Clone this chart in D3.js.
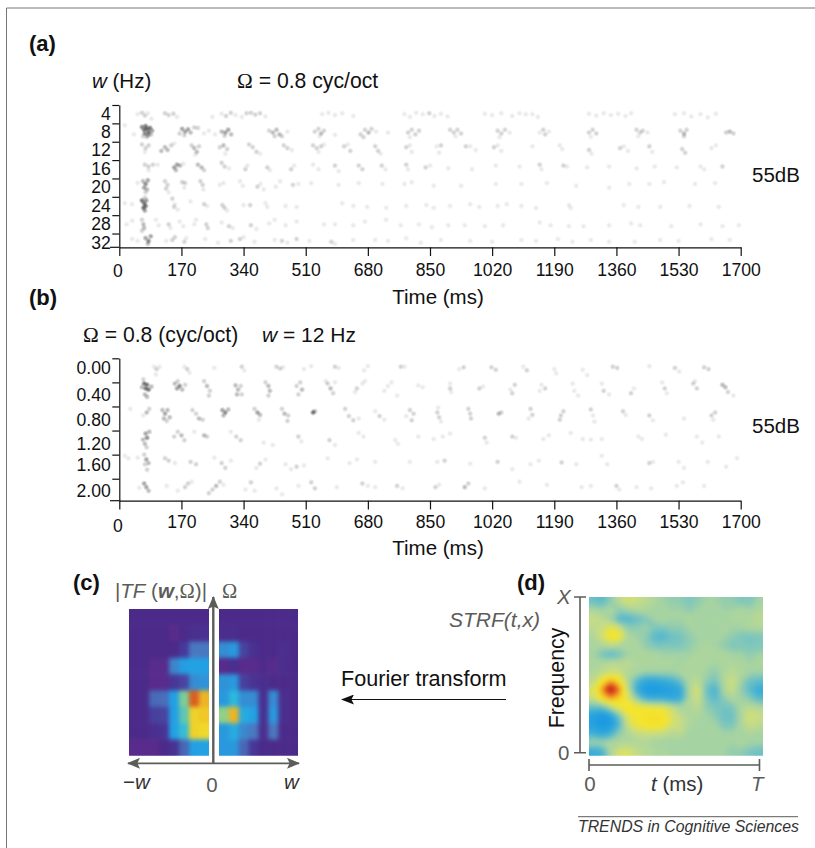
<!DOCTYPE html>
<html>
<head>
<meta charset="utf-8">
<script src="https://cdn.jsdelivr.net/npm/d3@7"></script>
<style>
html, body { margin: 0; padding: 0; background: #fff; }
text { font-family: "Liberation Sans", Arial, sans-serif; }
.tick text { font-size: 17.6px; fill: #111; }
</style>
</head>
<body>
<div id="chart"></div>
<script>
// Tick labels
const timeTicks = [0, 170, 340, 510, 680, 850, 1020, 1190, 1360, 1530, 1700];
const rateTicks = [4, 8, 12, 16, 20, 24, 28, 32];
const scaleTicks = [0, 0.4, 0.8, 1.2, 1.6, 2.0];

// Panel (a) spikes: [time ms, rate Hz, darkness]
const spikes4 = [[50,6,1],[62,5.7,2],[70,6.3,2],[78,5.8,1],[88,7,1],[125,5.8,2],[135,6.2,2],[148,5.9,2],[158,6.6,1],[255,6.6,1],[280,5.9,1],[292,6.4,2],[305,5.7,2],[318,6.2,1],[335,6.6,1],[348,5.8,2],[360,5.7,2],[372,6.1,2],[385,5.8,2],[400,6.5,1],[555,6,1],[572,5.7,1],[590,6.2,1],[610,5.8,1],[640,6.4,1],[780,6,1],[795,6.6,1],[812,5.7,1],[830,6,1],[848,5.8,2],[862,6.4,1],[880,5.9,1],[898,6.5,1],[1000,5.9,1],[1020,6.2,1],[1045,5.8,1],[1075,6.4,1],[1095,5.8,1],[1112,6,1],[1130,6,1],[1145,6.6,1],[1285,5.9,1],[1305,6.3,1],[1325,5.8,1],[1345,6.2,1],[1365,5.9,1],[1385,6.4,1],[1400,5.8,1],[1520,6,1],[1545,5.8,1],[1565,6.5,1],[1590,6,1],[1610,6.7,1],[1632,5.9,1]];
const spikes8 = [[62,8.8,5],[68,9.4,6],[72,8.6,7],[76,9.2,8],[80,9.9,7],[84,9,6],[70,10.2,5],[78,10.6,4],[86,10.4,3],[65,10.8,2],[90,9.6,4],[75,11,2],[15,8.4,1],[40,10.4,1],[172,9.2,4],[180,9.8,4],[188,9.3,4],[165,10.2,2],[195,10,3],[205,8.9,2],[178,10.6,2],[215,9,2],[232,10.2,1],[245,9.6,1],[262,10.4,1],[280,9.8,3],[290,10,4],[298,9.4,4],[306,10.4,3],[288,10.7,2],[410,9.6,2],[420,10,3],[430,9.4,3],[438,10.4,3],[445,10.8,2],[425,10.8,2],[460,9.8,1],[535,9.8,2],[545,9.2,2],[552,10.2,3],[560,9.6,2],[548,10.8,1],[590,10.5,1],[660,10.4,2],[672,9.4,2],[682,10,3],[690,9.2,2],[668,11,2],[702,9.8,1],[735,10,1],[790,10,2],[800,9.4,2],[810,10.4,2],[820,9.6,2],[795,11,1],[905,9.4,2],[915,10,2],[925,9.4,2],[935,10.2,2],[920,10.8,1],[1035,9.6,2],[1045,10.2,2],[1055,9.4,2],[1068,10,1],[1040,11,1],[1150,10,1],[1160,9.4,2],[1165,10.4,2],[1175,9.8,1],[1285,10,2],[1295,9.4,2],[1305,10.2,2],[1290,10.9,1],[1415,9.4,2],[1425,10,2],[1432,9.6,2],[1445,10,1],[1420,10.8,1],[1535,9.6,2],[1545,10.2,3],[1552,9.4,2],[1545,10.8,2],[1660,10,2],[1670,9.8,3],[1680,10.2,2]];
const spikes12 = [[62,12.6,2],[72,13.4,2],[80,12.8,2],[70,14.2,1],[115,14,3],[125,13.2,3],[132,13.8,3],[142,12.8,2],[150,12.4,1],[198,12.8,2],[205,13.4,3],[212,14.2,3],[218,13,2],[208,14.8,1],[275,13.2,2],[285,12.8,3],[295,13.6,2],[290,14.6,1],[355,12.6,2],[365,13.2,2],[375,14.2,2],[385,14.6,1],[450,12.8,2],[460,13.4,2],[472,13.8,1],[530,12.8,2],[540,13.4,2],[552,13,2],[545,14.2,1],[560,12.6,1],[615,13,2],[625,12.6,1],[632,14,2],[700,13,2],[708,14,2],[715,14.6,1],[785,13.2,2],[795,12.8,1],[800,14.2,1],[868,13,1],[880,12.8,2],[875,14.4,1],[948,13,2],[960,13,1],[975,13.8,1],[1025,13.2,2],[1035,12.8,1],[1045,14,1],[1130,13,1],[1205,12.8,1],[1212,13.6,1],[1285,13.8,2],[1292,14.6,1],[1370,13.4,2],[1380,13,1],[1392,14,1],[1450,13,2],[1458,14.2,1],[1540,13.6,2],[1548,14.4,2],[1620,13.4,1],[1632,12.8,1]];
const spikes16 = [[70,17,2],[80,17.4,2],[92,17,2],[105,17,1],[80,18.2,1],[150,17.6,4],[158,17,4],[166,17.2,3],[155,18.2,3],[175,16.8,1],[215,17,3],[225,17.6,3],[232,18.2,2],[280,16.6,2],[288,17.4,2],[300,17.8,1],[345,18,2],[350,17.2,1],[405,17.6,2],[412,18.2,1],[470,18,2],[478,17.2,1],[530,17,1],[545,18,1],[590,17.2,2],[600,18.4,1],[655,17.2,2],[665,18,2],[718,17.2,2],[728,18,1],[785,17,2],[790,18,1],[838,17.6,2],[850,17.2,1],[900,17.8,1],[965,18,1],[1030,17.2,1],[1095,17.4,1],[1150,17,2],[1155,18,1],[1215,17.2,2],[1225,17.4,1],[1280,17.6,1],[1340,17.4,1],[1415,17.8,1],[1465,17.4,1],[1525,17.6,1],[1590,17.4,1],[1600,18,1],[1650,17.4,2]];
const spikes20 = [[50,21,1],[65,20.6,3],[72,21.2,5],[78,20.4,4],[68,22,4],[76,22.4,3],[72,23,2],[125,20.6,2],[132,21.4,2],[128,22.2,2],[135,23,1],[172,20.8,2],[180,21,2],[178,22,1],[222,20.6,2],[228,21.4,2],[230,22.4,1],[275,21.4,1],[285,21,1],[330,20.6,1],[338,21.6,1],[378,21.8,2],[386,21.2,1],[395,22.4,1],[428,21.8,1],[440,20.6,1],[475,21.4,2],[490,21.2,1],[525,21,1],[600,21.4,1],[655,21,1],[720,21.2,1],[780,21.2,1],[800,20.8,1],[860,21.6,1],[935,21.6,1],[1030,21.2,1],[1100,21.2,1],[1170,21,1],[1250,21.6,1],[1340,22,1],[1395,21.2,1],[1450,21.2,1],[1490,20.8,1],[1575,21.2,1],[1630,21,1]];
const spikes24 = [[15,25.4,1],[35,25.6,1],[62,24.8,6],[68,25.4,7],[72,26,7],[66,26.4,6],[70,27,4],[74,24.8,4],[70,24.2,2],[145,24.4,2],[152,25.6,1],[150,26.2,2],[160,26.8,1],[195,25,1],[232,25.6,2],[240,26,1],[282,25.8,2],[288,26.4,2],[295,27,1],[340,25.8,1],[358,25.8,2],[400,25.4,1],[405,26.2,1],[455,26,1],[485,26.2,1],[610,25.4,1],[640,26,1],[678,26.2,1],[730,26.4,1],[785,26,1],[840,25.8,1],[860,26.4,1],[905,26,1],[960,25.6,1],[985,26.2,1],[1035,26,1],[1060,25.6,1],[1100,26,1],[1140,26.4,1],[1230,25.8,1],[1235,26.4,1],[1380,25.8,1],[1420,26.2,1],[1480,26.2,1],[1560,26,1],[1640,26.2,1]];
const spikes28 = [[20,30,1],[35,29.2,1],[62,29,2],[66,30,3],[68,30.8,3],[62,31.4,2],[100,29,1],[108,30.2,1],[135,30,2],[140,30.8,1],[165,29.4,1],[175,30.4,1],[205,30,1],[210,29,1],[238,30,2],[242,30.8,2],[280,29.6,1],[300,30.4,2],[310,30.8,1],[360,30.2,2],[375,31,1],[410,29.8,1],[425,29,1],[455,30.2,1],[485,29.4,1],[560,30,1],[590,30,1],[640,30.2,1],[672,29.4,1],[730,29,1],[770,30.2,1],[820,30,1],[855,30.6,1],[900,30.2,1],[945,30.2,1],[1000,30.4,1],[1050,30.2,1],[1150,29.6,1],[1180,30.2,1],[1230,30.4,1],[1270,30.4,1],[1340,30.2,1],[1400,29.8,1],[1425,30.2,1],[1510,30.4,1],[1590,30,1],[1650,30.4,1],[1695,30.2,1]];
const spikes32 = [[35,33.2,1],[50,33.6,1],[72,33,4],[80,33.6,5],[86,32.6,4],[78,34.2,3],[128,33.6,1],[145,33.4,2],[152,32.8,2],[178,33.8,2],[183,33,1],[235,33.2,1],[270,34,1],[305,33.6,2],[330,33.2,2],[340,32.8,1],[370,33.8,1],[425,33.4,1],[445,33.6,2],[460,34,1],[485,33.2,2],[520,33.6,1],[580,33.8,2],[590,34.2,1],[640,33.4,1],[700,33.4,1],[735,33.6,1],[785,33,1],[825,34,1],[880,33.4,1],[960,33.6,1],[1020,33.8,1],[1100,33.4,1],[1140,33.6,1],[1200,33.2,1],[1240,33.8,1],[1290,33.4,1],[1340,33.8,1],[1410,33.8,1],[1480,33.4,1],[1530,33.6,1],[1620,33.2,1],[1670,33.4,1]];

// Panel (b) spikes: [time ms, scale cyc/oct, darkness]
const spikes000 = [[95,0.14,1],[102,0.18,2],[110,0.14,1],[100,0.27,1],[178,0.14,1],[186,0.18,2],[192,0.24,1],[260,0.16,1],[335,0.14,2],[342,0.2,1],[430,0.14,2],[440,0.17,2],[448,0.15,1],[505,0.18,1],[525,0.13,1],[590,0.14,2],[600,0.16,1],[670,0.2,1],[680,0.13,1],[770,0.14,2],[780,0.14,1],[930,0.18,1],[942,0.15,2],[1018,0.15,2],[1030,0.19,2],[1105,0.14,1],[1115,0.2,2],[1190,0.18,1],[1195,0.25,1],[1268,0.19,1],[1280,0.28,1],[1350,0.14,2],[1362,0.16,2],[1450,0.13,1],[1520,0.16,2],[1532,0.22,1],[1600,0.15,2],[1612,0.18,2]];
const spikes040 = [[62,0.48,3],[68,0.42,6],[72,0.5,8],[76,0.44,7],[80,0.52,6],[88,0.47,3],[70,0.6,3],[76,0.64,3],[66,0.35,2],[152,0.42,3],[158,0.5,4],[165,0.46,5],[172,0.52,3],[160,0.38,2],[180,0.44,2],[232,0.38,2],[240,0.46,3],[248,0.54,2],[245,0.62,2],[318,0.45,3],[325,0.52,3],[332,0.46,2],[322,0.6,3],[335,0.6,2],[400,0.4,2],[408,0.46,3],[412,0.54,3],[408,0.62,2],[485,0.46,2],[495,0.4,2],[500,0.52,3],[490,0.6,2],[570,0.42,2],[578,0.5,3],[585,0.58,2],[565,0.38,1],[590,0.4,1],[650,0.5,2],[665,0.42,1],[672,0.38,1],[645,0.56,1],[735,0.46,1],[745,0.4,1],[725,0.54,1],[760,0.62,1],[818,0.45,1],[830,0.48,1],[905,0.42,1],[905,0.5,2],[908,0.56,1],[985,0.5,2],[995,0.47,1],[1070,0.52,1],[1082,0.44,2],[1075,0.58,2],[1155,0.44,1],[1165,0.5,2],[1150,0.54,1],[1240,0.42,1],[1245,0.54,1],[1255,0.62,1],[1320,0.42,1],[1325,0.54,2],[1340,0.6,1],[1400,0.58,2],[1408,0.5,1],[1485,0.4,1],[1492,0.5,2],[1498,0.58,1],[1570,0.42,2],[1580,0.5,2],[1575,0.38,1],[1650,0.44,3],[1658,0.48,3],[1665,0.56,2],[1680,0.62,1]];
const spikes080 = [[30,0.84,1],[65,0.95,1],[75,0.9,3],[82,0.84,2],[118,0.86,3],[125,0.92,4],[132,0.86,3],[122,1.0,3],[138,0.98,3],[130,1.04,2],[200,0.86,2],[210,0.92,2],[218,1,3],[228,1.02,2],[282,0.86,4],[290,0.9,5],[298,0.85,3],[285,0.95,3],[370,0.84,2],[378,0.9,4],[385,0.94,3],[382,1.02,1],[445,0.84,2],[452,0.92,3],[462,0.95,2],[460,1.04,2],[530,0.9,6],[535,0.88,3],[618,0.84,2],[628,0.96,2],[640,1.03,2],[655,1,1],[700,0.88,1],[712,0.96,2],[725,1.02,1],[785,0.96,1],[795,0.86,2],[805,0.92,2],[800,1.03,2],[870,0.9,2],[875,0.98,2],[872,0.82,1],[880,1.05,1],[955,0.84,2],[960,0.92,2],[962,1,2],[1038,0.92,3],[1045,0.9,2],[1125,0.84,2],[1130,0.94,2],[1120,1,1],[1208,0.95,2],[1215,0.88,2],[1205,1.02,2],[1290,0.85,2],[1296,0.95,1],[1300,1.05,1],[1378,0.88,2],[1385,0.94,1],[1450,0.95,2],[1460,1.03,1],[1545,1,1],[1620,0.95,2],[1630,0.9,2],[1625,1.02,1]];
const spikes120 = [[65,1.35,3],[72,1.25,4],[76,1.32,5],[82,1.22,3],[70,1.42,3],[75,1.48,2],[150,1.3,2],[160,1.22,2],[170,1.28,3],[178,1.36,2],[205,1.22,1],[232,1.28,3],[240,1.3,2],[305,1.22,1],[320,1.3,2],[332,1.36,2],[395,1.4,1],[420,1.44,1],[490,1.3,2],[498,1.38,1],[575,1.36,2],[590,1.44,1],[655,1.24,1],[668,1.3,1],[755,1.36,1],[762,1.42,1],[818,1.3,1],[860,1.34,1],[885,1.3,1],[905,1.25,1],[1000,1.32,2],[1005,1.4,1],[1075,1.3,2],[1085,1.32,1],[1160,1.34,1],[1175,1.28,1],[1235,1.24,1],[1268,1.34,1],[1290,1.35,1],[1320,1.34,1],[1420,1.3,1],[1430,1.34,1],[1495,1.27,1],[1580,1.3,1],[1595,1.4,1],[1640,1.3,1]];
const spikes160 = [[15,1.62,1],[25,1.66,1],[50,1.65,1],[68,1.6,2],[74,1.68,4],[80,1.74,3],[70,1.76,2],[76,1.85,2],[125,1.66,2],[135,1.7,2],[152,1.74,1],[195,1.72,2],[210,1.76,2],[260,1.65,1],[280,1.74,2],[290,1.82,2],[305,1.7,1],[375,1.82,1],[385,1.75,2],[400,1.68,1],[455,1.76,1],[470,1.84,1],[485,1.8,2],[505,1.78,1],[570,1.66,1],[630,1.74,1],[650,1.68,1],[700,1.72,1],[795,1.72,1],[870,1.72,1],[890,1.7,2],[960,1.75,1],[1035,1.72,2],[1075,1.84,1],[1125,1.76,1],[1148,1.7,1],[1210,1.73,2],[1250,1.76,1],[1320,1.62,1],[1335,1.76,1],[1450,1.74,2],[1460,1.72,1],[1530,1.72,1],[1545,1.82,1],[1610,1.72,1],[1660,1.8,1],[1690,1.66,1]];
const spikes200 = [[55,2.15,1],[68,2.08,4],[74,2.14,4],[80,2.2,3],[130,2.12,1],[160,2.2,1],[180,2.14,2],[188,2.08,2],[198,2.05,1],[245,2.24,2],[255,2.18,2],[265,2.12,3],[275,2.05,2],[285,2.1,1],[345,2.18,1],[360,2.06,2],[370,2.2,1],[430,2.16,1],[445,2.26,1],[490,2.12,1],[525,2.06,2],[535,2.16,2],[595,2.14,1],[665,2.08,2],[680,2.12,1],[700,2.14,1],[760,2.12,2],[775,2.16,1],[865,2.14,2],[875,2.1,1],[945,2.14,3],[955,2.08,2],[1000,2.16,1],[1095,2.05,1],[1170,2.1,1],[1265,2.14,1],[1290,2.12,1],[1360,2.12,2],[1368,2.18,1],[1415,2.14,1],[1455,2.16,1],[1525,2.12,1],[1542,2.06,1],[1600,2.12,1]];

// Panel (c) |TF| magnitude, rows top to bottom, columns left to right
const tfLeft = [
  [0,0,0,0,0,0,0,0],
  [0,0,0,0,-0.05,0,0.04,0.05],
  [0,0,0,0,0,0.12,0.3,0.3],
  [0,0,-0.05,-0.05,0.35,0.44,0.46,0.45],
  [0,0,-0.05,-0.05,0.1,0.15,0.38,0.4],
  [0,0,0.26,0.27,0.45,0.68,0.97,0.88],
  [0,0,0.14,0.15,0.45,0.64,0.84,0.86],
  [0,0,0.04,0.08,0.46,0.58,0.84,0.82],
  [-0.05,-0.05,-0.05,0,0.06,0.25,0.45,0.46]];
const tfRight = [
  [0,0,0,0,0,0,0,0],
  [0.02,0.02,0,0,0,0,0,0],
  [0.38,0.42,0.15,0.05,0,0,0.04,0],
  [-0.05,0.03,-0.05,-0.05,-0.02,-0.04,0.02,0],
  [0.4,0.42,0.14,0.07,0.03,0,0,0],
  [0.42,0.56,0.38,0.38,0.05,0.38,0.04,0],
  [0.7,0.88,0.5,0.46,0.05,0.42,0.04,0],
  [0.42,0.5,0.36,0.3,0.04,0.3,0,0],
  [0.42,0.42,0.25,0.1,0,0,0,0]];

// Panel (d) STRF(t,x), rows from top (high frequency) to bottom
const strf = [
  [-0.3,-0.4,-0.1,0.2,0.4,0.3,0.2,0.1,0,-0.1,-0.1,-0.2,-0.1,0,0,-0.1,-0.1,-0.2,-0.2,0],
  [0.1,0,0.1,-0.1,0,0.1,0.1,0,0,0,0,-0.1,0,0,0,0,0,0.1,0,0.1],
  [0.3,0.2,0,-0.45,-0.45,-0.35,-0.2,0,0.1,0,0,0.1,0,0,0.1,0,0.1,0.1,0.1,0.2],
  [0.2,0.3,0.55,0.35,-0.1,-0.1,0,-0.2,-0.2,-0.1,-0.1,0,0,0,0,0.1,0,0,0.1,0.1],
  [0.1,0.4,0.75,0.7,0.1,0,-0.1,-0.4,-0.45,-0.3,-0.25,-0.1,0,0,0,0,-0.1,-0.2,-0.25,-0.2],
  [0.1,0.1,0.2,0.1,0.1,0.1,-0.1,-0.2,-0.2,-0.2,-0.2,-0.1,0,0.1,0,-0.1,-0.2,-0.2,-0.2,-0.2],
  [0,-0.25,-0.4,-0.25,0,0.1,0.1,0.1,0,0,0,0,0.1,0.1,0.1,0.1,0,0,-0.1,0],
  [0.1,0.1,0.2,0.15,0.2,0.1,0.1,0.1,0.1,0.1,0,0.1,0.1,0.1,0,0.1,0.1,0.1,0,0.1],
  [0.1,0.2,0.3,0.3,0.1,0.1,0,0,0,0,0.1,0.1,0.1,0,-0.1,0.1,0.2,0.1,0,0],
  [0.2,0.75,1,0.8,0.1,-0.4,-0.7,-0.7,-0.6,-0.5,-0.3,0.1,0.2,-0.1,-0.25,0.1,0.35,0,-0.3,-0.35],
  [0.45,1.05,1.65,1.1,0.25,-0.6,-0.95,-1.05,-0.95,-0.85,-0.7,0.1,0.45,-0.3,-0.5,0.1,0.3,-0.1,-0.4,-0.6],
  [0.3,0.85,1,0.9,0.5,-0.1,-0.5,-0.6,-0.6,-0.7,-0.6,0.1,0.35,-0.2,-0.4,-0.1,0.1,0,-0.15,-0.4],
  [-0.3,-0.3,0.2,0.6,0.75,0.65,0.6,0.55,0.5,0.3,0.05,0.1,0.2,-0.1,-0.2,-0.25,-0.2,0.1,0.2,0.1],
  [-0.85,-1.05,-0.85,-0.2,0.5,0.7,0.78,0.85,0.78,0.45,0.25,0.1,0.1,0,-0.1,-0.3,-0.3,0.1,0.4,0.3],
  [-0.85,-1.05,-0.95,-0.4,0.35,0.6,0.7,0.78,0.68,0.4,0.3,0.1,0,0,0,-0.2,-0.2,0.1,0.3,0.2],
  [-0.5,-0.7,-0.5,-0.1,0.1,0.25,0.3,0.3,0.25,0.15,0.2,0,0,0,0,0,0,0,0.1,0],
  [0,0,0.1,0.1,0.1,0.1,0.1,0,0,0,0,0,0,0,0,0,0,0.1,0,0],
  [-0.6,-0.5,0.1,0.4,0.45,0.25,0.15,0.1,0.1,0,0,0,0,0,0,0,-0.1,-0.1,-0.2,-0.3]];

const width = 815;
const height = 848;
const grey = "#5c5c58";

const svg = d3.select("#chart")
    .append("svg")
    .attr("width", width)
    .attr("height", height)
    .style("display", "block");

const defs = svg.append("defs");

// soft round spot for raster marks
const spot = defs.append("radialGradient").attr("id", "spot");
spot.append("stop").attr("offset", "0%").attr("stop-color", "#000").attr("stop-opacity", 1);
spot.append("stop").attr("offset", "45%").attr("stop-color", "#000").attr("stop-opacity", 0.55);
spot.append("stop").attr("offset", "100%").attr("stop-color", "#000").attr("stop-opacity", 0);

function arrowMarker(id, color, w, h) {
    defs.append("marker")
        .attr("id", id)
        .attr("viewBox", `0 0 ${w} ${h}`)
        .attr("refX", w - 1)
        .attr("refY", h / 2)
        .attr("markerUnits", "userSpaceOnUse")
        .attr("markerWidth", w)
        .attr("markerHeight", h)
        .attr("orient", "auto-start-reverse")
        .append("path")
            .attr("d", `M0,0L${w},${h / 2}L0,${h}L${w * 0.2},${h / 2}Z`)
            .attr("fill", color);
}
arrowMarker("headGrey", grey, 13, 11);
arrowMarker("headBlack", "#111", 13, 10);

function label(x, y, parts, opts) {
    opts = opts || {};
    const t = svg.append("text")
        .attr("x", x)
        .attr("y", y)
        .attr("font-size", opts.size || 20.5)
        .attr("fill", opts.fill || "#111")
        .attr("text-anchor", opts.anchor || "start");
    if (opts.rotate) t.attr("transform", `rotate(${opts.rotate} ${x} ${y})`);
    parts.forEach(function(p) {
        if (typeof p === "string") p = {s: p};
        const span = t.append("tspan").text(p.s);
        if (p.italic) span.attr("font-style", "italic");
        if (p.bold) span.attr("font-weight", "bold");
        if (p.serif) span.style("font-family", "'Liberation Serif', serif");
    });
    return t;
}

// Spike raster with its two axes, shared by panels (a) and (b)
function rasterPanel(cfg) {
    const x = d3.scaleLinear().domain([0, 1700]).range([119.3, 740.7]);
    const y = d3.scaleLinear().domain(cfg.domain).range([cfg.top, cfg.bottom]);

    const g = svg.append("g");
    cfg.rows.forEach(function(row) {
        g.append("g").selectAll("circle")
            .data(row)
            .enter()
            .append("circle")
                .attr("cx", function(d) { return x(d[0]); })
                .attr("cy", function(d) { return y(d[1]); })
                .attr("r", 3.4)
                .attr("fill", "url(#spot)")
                .attr("opacity", function(d) { return Math.min(0.6, d[2] * 0.105); });
    });

    const xAxis = svg.append("g")
        .attr("transform", `translate(0,${cfg.bottom})`)
        .call(d3.axisBottom(x).tickValues(timeTicks).tickFormat(d3.format("d")).tickSize(8.7).tickSizeOuter(0));
    const yAxis = svg.append("g")
        .attr("transform", "translate(119.3,0)")
        .call(d3.axisLeft(y).tickValues(cfg.ticks).tickFormat(cfg.format).tickSize(7).tickSizeOuter(0));

    [xAxis, yAxis].forEach(function(a) {
        a.selectAll("path, line").attr("stroke", "#111").attr("stroke-width", 1.2);
    });
    xAxis.selectAll(".tick text").attr("y", cfg.labelY).attr("dy", 0);
    xAxis.selectAll(".tick text").filter(function(d) { return d === 0; })
        .attr("x", -2)
        .attr("y", cfg.zeroY);
    yAxis.selectAll(".tick text")
        .attr("x", -8.5)
        .attr("dy", function(d, i) { return cfg.labelDrop[i] + 6.2; });

    // bottom rule runs a little past the y axis
    svg.append("line")
        .attr("x1", 110).attr("x2", 119.3)
        .attr("y1", cfg.bottom).attr("y2", cfg.bottom)
        .attr("stroke", "#111").attr("stroke-width", 1.2);
}

rasterPanel({
    rows: [spikes4, spikes8, spikes12, spikes16, spikes20, spikes24, spikes28, spikes32],
    domain: [4, 35], top: 105, bottom: 247.3,
    ticks: rateTicks, format: d3.format("d"),
    labelDrop: [8, 8, 8, 8, 8, 8, 8, 8.7],
    labelY: 29.2, zeroY: 29.7
});
rasterPanel({
    rows: [spikes000, spikes040, spikes080, spikes120, spikes160, spikes200],
    domain: [0, 2.365], top: 358.3, bottom: 500.7,
    ticks: scaleTicks, format: d3.format(".2f"),
    labelDrop: [8.7, 11.7, 12.4, 13, 10, 11.3],
    labelY: 27.5, zeroY: 31.5
});

// Panel (c): two blocky halves either side of the Omega axis
const tfColor = d3.scaleLinear()
    .domain([-0.05, 0, 0.12, 0.3, 0.45, 0.56, 0.66, 0.8, 0.86, 0.97])
    .range(["#582b8c", "#4b2a8a", "#47399a", "#4a78c0", "#22a0e4", "#2cb8dc", "#6ccaa8", "#eee22e", "#f0c828", "#d9601f"]);

function tfHalf(id, grid, x0, x1) {
    const y0 = 609, y1 = 755.7;
    const xB = d3.scaleBand().domain(d3.range(grid[0].length)).range([x0, x1]);
    const yB = d3.scaleBand().domain(d3.range(grid.length)).range([y0, y1]);
    const cells = grid.flatMap(function(row, r) {
        return row.map(function(v, c) { return {r: r, c: c, v: v}; });
    });
    defs.append("clipPath").attr("id", id)
        .append("rect").attr("x", x0).attr("y", y0).attr("width", x1 - x0).attr("height", y1 - y0);
    const lastC = grid[0].length - 1, lastR = grid.length - 1;
    const pad = 8;   // edge cells overrun the clip so the blur keeps a hard edge
    svg.append("g").attr("clip-path", `url(#${id})`)
        .append("g").style("filter", "blur(2.2px)")
        .selectAll("rect")
        .data(cells)
        .enter()
        .append("rect")
            .attr("x", function(d) { return xB(d.c) - (d.c === 0 ? pad : 0); })
            .attr("y", function(d) { return yB(d.r) - (d.r === 0 ? pad : 0); })
            .attr("width", function(d) { return xB.bandwidth() + 0.5 + (d.c === 0 || d.c === lastC ? pad : 0); })
            .attr("height", function(d) { return yB.bandwidth() + 0.5 + (d.r === 0 || d.r === lastR ? pad : 0); })
            .attr("fill", function(d) { return tfColor(d.v); });
}
tfHalf("clipTfL", tfLeft, 129, 209);
tfHalf("clipTfR", tfRight, 219, 298);

svg.append("line")
    .attr("x1", 213.3).attr("x2", 213.3).attr("y1", 763).attr("y2", 597)
    .attr("stroke", grey).attr("stroke-width", 2.4)
    .attr("marker-end", "url(#headGrey)");
svg.append("line")
    .attr("x1", 128).attr("x2", 299).attr("y1", 763.3).attr("y2", 763.3)
    .attr("stroke", grey).attr("stroke-width", 1.8)
    .attr("marker-start", "url(#headGrey)")
    .attr("marker-end", "url(#headGrey)");

// Panel (d): smooth STRF surface, built as nested contours
const strfColor = d3.scaleLinear()
    .domain([-1, -0.6, -0.25, 0, 0.25, 0.62, 0.85, 1, 1.25, 1.6])
    .range(["#1e9ce2", "#38acd8", "#78c4c0", "#a6d3a2", "#c6dc88", "#f4e62e", "#f5dc2a", "#f09a24", "#e0401e", "#ac1c1c"]);

(function strfPanel() {
    const x0 = 589, x1 = 763, y0 = 597, y1 = 755.7;
    const nC = strf[0].length, nR = strf.length;
    // one ring of repeated edge values so the contours do not close inside the frame
    const padded = [];
    for (let r = -1; r <= nR; r++) {
        const row = strf[Math.max(0, Math.min(nR - 1, r))];
        padded.push(row[0], ...row, row[nC - 1]);
    }
    const levels = d3.range(-1.1, 1.7, 0.05);
    const contours = d3.contours().size([nC + 2, nR + 2]).thresholds(levels)(padded);
    const sx = d3.scaleLinear().domain([1, nC + 1]).range([x0, x1]);
    const sy = d3.scaleLinear().domain([1, nR + 1]).range([y0, y1]);
    const path = d3.geoPath(d3.geoTransform({
        point: function(px, py) { this.stream.point(sx(px), sy(py)); }
    }));

    defs.append("clipPath").attr("id", "clipStrf")
        .append("rect").attr("x", x0).attr("y", y0).attr("width", x1 - x0).attr("height", y1 - y0);
    svg.append("g").attr("clip-path", "url(#clipStrf)")
        .append("g").style("filter", "blur(2.5px)")
        .selectAll("path")
        .data(contours)
        .enter()
        .append("path")
            .attr("d", path)
            .attr("fill", function(d) { return strfColor(d.value); });
})();

// Brackets around the STRF
svg.append("path")
    .attr("d", "M574,597H586M580,597V752.7M574,752.7H586M589,759V771M589,765H759.5M759.5,759V771")
    .attr("fill", "none").attr("stroke", grey).attr("stroke-width", 1.6);

// Fourier transform arrow
svg.append("line")
    .attr("x1", 506).attr("x2", 342).attr("y1", 699.5).attr("y2", 699.5)
    .attr("stroke", "#111").attr("stroke-width", 1.2)
    .attr("marker-end", "url(#headBlack)");

// Outer frame (top and left edges only)
svg.append("path")
    .attr("d", "M815,8H6.5V848")
    .attr("fill", "none").attr("stroke", "#777").attr("stroke-width", 1);

// Text
const W = {s: "w", italic: true};
label(29, 51, [{s: "(a)", bold: true}], {size: 22});
label(92, 88, [W, " (Hz)"]);
label(237, 88, [{s: "Ω", serif: true}, " = 0.8 cyc/oct"], {size: 21.2});
label(752, 182, ["55dB"]);
label(438, 304, ["Time (ms)"], {anchor: "middle"});

label(29, 305, [{s: "(b)", bold: true}], {size: 22});
label(83, 342, [{s: "Ω", serif: true}, " = 0.8 (cyc/oct)"], {size: 21.2});
label(262, 342, [W, " = 12 Hz"], {size: 21});
label(752, 433, ["55dB"]);
label(438, 555, ["Time (ms)"], {anchor: "middle"});

label(73, 590, [{s: "(c)", bold: true}], {size: 22});
label(115, 598, ["|", {s: "TF", italic: true}, " (", {s: "w", italic: true, bold: true}, ",", {s: "Ω", serif: true}, ")|"], {fill: grey});
label(222, 598, [{s: "Ω", serif: true}], {fill: grey});
label(123, 789, ["−", W], {fill: "#333"});
label(212, 792, ["0"], {anchor: "middle", fill: grey});
label(284, 789, [W], {fill: "#333"});

label(341, 686, ["Fourier transform"], {size: 21.6});

label(517, 590, [{s: "(d)", bold: true}], {size: 22});
label(449, 627, [{s: "STRF(t,x)", italic: true}], {fill: grey, size: 21});
label(557, 604, [{s: "X", italic: true}], {fill: grey});
label(558, 760, ["0"], {fill: grey});
label(564, 678, ["Frequency"], {anchor: "middle", rotate: -90, size: 21.3});
label(590, 791, ["0"], {anchor: "middle", fill: grey});
label(651, 791, [{s: "t", italic: true}, " (ms)"], {fill: "#333"});
label(751, 791, [{s: "T", italic: true}], {fill: grey});

svg.append("line")
    .attr("x1", 578).attr("x2", 798).attr("y1", 816.7).attr("y2", 816.7)
    .attr("stroke", grey).attr("stroke-width", 1);
label(578, 832, [{s: "TRENDS in Cognitive Sciences", italic: true}], {size: 15.85, fill: "#333"});
</script>
</body>
</html>
